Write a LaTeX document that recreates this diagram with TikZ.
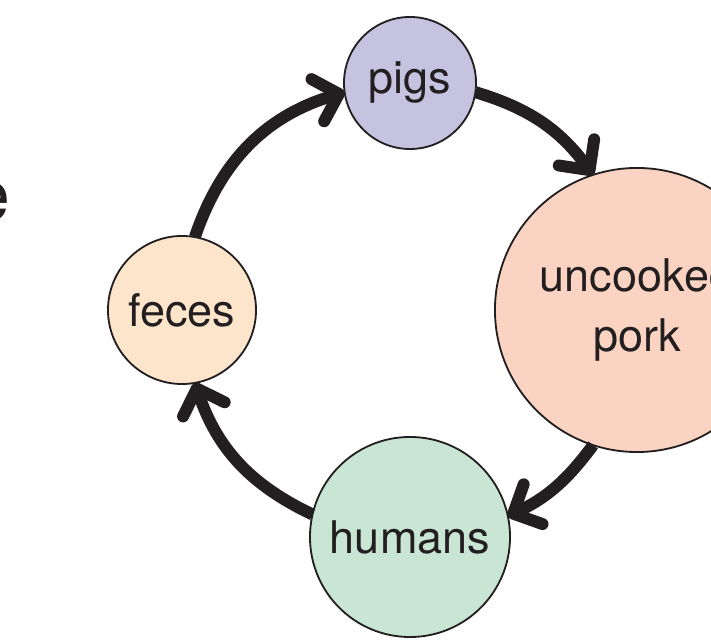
\documentclass[tikz,border=0pt]{standalone}
\usepackage{fontspec}
\setmainfont{TeX Gyre Heros}
\usetikzlibrary{arrows.meta}
\definecolor{ink}{HTML}{231F20}
\definecolor{pigfill}{HTML}{C6C3E1}
\definecolor{porkfill}{HTML}{FAD3C2}
\definecolor{fecesfill}{HTML}{FDE5CC}
\definecolor{humanfill}{HTML}{C9E5D3}

\begin{document}
\begin{tikzpicture}[x=0.025cm, y=0.025cm,
	stage/.style={circle, draw=ink, line width=1.3pt, inner sep=0pt, outer sep=0pt, text=ink, font=\fontsize{32}{42}\selectfont, align=center},
	cyclearrow/.style={draw=ink, line width=8.5pt, -{Straight Barb[round, length=0.55cm, width=1.1cm]}}]
%	\draw [help lines, step=50] (0,0) grid (711,643);
	\clip (0,0) rectangle (711,643);
	\node [stage, fill=pigfill, minimum size=3.3cm] (pigs) at (410,560) {pigs};
	\node [stage, fill=porkfill, minimum size=7.1cm] (pork) at (637,333) {uncooked\\pork};
	\node [stage, fill=humanfill, minimum size=5cm] (humans) at (410,106) {humans};
	\node [stage, fill=fecesfill, minimum size=3.7cm] (feces) at (182,333) {feces};
	\node [anchor=base east, inner sep=0pt, text=ink, font=\fontsize{51}{60}\selectfont] (cut) at (11,422) {e};
	% arcs follow one big circle round (410,333)
	\draw [cyclearrow] (pigs.-8.35) to [out=-16.7, in=126.5] (pork.108.25);
	\draw [cyclearrow] (pork.-108.25) to [out=-126.5, in=25.4] (humans.12.7);
	\draw [cyclearrow] (humans.167.3) to [out=154.6, in=-71.2] (feces.-80.6);
	\draw [cyclearrow] (feces.80.6) to [out=71.2, in=-163.3] (pigs.188.35);
\end{tikzpicture}
\end{document}
